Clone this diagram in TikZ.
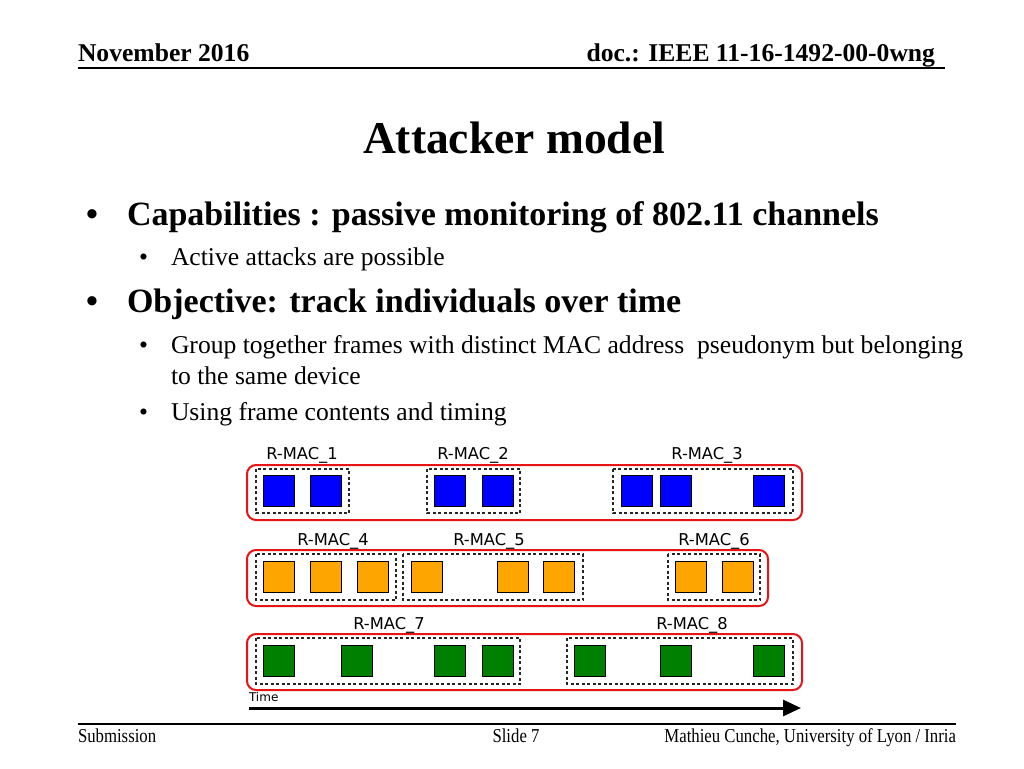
\documentclass[tikz,border=0pt]{standalone}
\usepackage{fontspec}
\setmainfont{Liberation Serif}
\newfontfamily\footfont{Liberation Serif}[FakeStretch=0.85]
\newfontfamily\dejafont{DejaVu Sans}
\usetikzlibrary{arrows.meta}
\definecolor{frameblue}{RGB}{0,0,255}
\definecolor{frameorange}{RGB}{255,165,0}
\definecolor{framegreen}{RGB}{0,128,0}
\definecolor{groupred}{RGB}{230,20,20}
\tikzset{
  txt/.style={anchor=base west, inner sep=0pt, outer sep=0pt},
  hdr/.style={txt, font=\fontsize{25.6}{30}\selectfont\bfseries},
  lvlone/.style={txt, font=\fontsize{34}{40}\selectfont\bfseries},
  lvltwo/.style={txt, font=\fontsize{25.6}{30}\selectfont},
  foot/.style={txt, font=\fontsize{19.7}{24}\footfont},
  maclabel/.style={anchor=base, inner sep=0pt, font=\fontsize{16.3}{19}\dejafont},
  frm/.style={draw=black, line width=1pt, minimum width=31pt, minimum height=31pt, inner sep=0pt, anchor=north west},
  bluefrm/.style={frm, fill=frameblue},
  orangefrm/.style={frm, fill=frameorange},
  greenfrm/.style={frm, fill=framegreen},
  macbox/.style={draw=black!85, line width=1.2pt, dash pattern=on 3pt off 2.5pt},
  groupbox/.style={draw=groupred, line width=2pt, rounded corners=9pt},
  rulestyle/.style={draw=black, line width=1.5pt}
}
\begin{document}
\begin{tikzpicture}[x=1pt,y=-1pt]
\useasboundingbox[fill=white] (0,0) rectangle (1024,768);

% header
\node[hdr] (hl) at (78,62) {November 2016};
\node[hdr, anchor=base east] (hr) at (935,62) {doc.: IEEE 11-16-1492-00-0wng};
\coordinate (hla) at (78,68);
\coordinate (hlb) at (945,68);
\draw[rulestyle] (hla) -- (hlb);

% title
\node[txt, font=\fontsize{45.5}{50}\selectfont\bfseries] (title) at (363,153) {Attacker model};

% bullets
\node[lvlone] (b1) at (86,225) {\textbullet};
\node[lvlone] (t1) at (127,225) {Capabilities : passive monitoring of 802.11 channels};
\node[lvltwo] (b11) at (139,265) {\textbullet};
\node[lvltwo] (t11) at (171,265) {Active attacks are possible};
\node[lvlone] (b2) at (86,312) {\textbullet};
\node[lvlone] (t2) at (127,312) {Objective: track individuals over time};
\node[lvltwo] (b21) at (139,353) {\textbullet};
\node[lvltwo] (t21) at (171,353) {Group together frames with distinct MAC address\ \ pseudonym but belonging};
\node[lvltwo] (t21b) at (171,384) {to the same device};
\node[lvltwo] (b22) at (139,420) {\textbullet};
\node[lvltwo] (t22) at (171,420) {Using frame contents and timing};

% row 1
\draw[groupbox] (247,465) rectangle (802,520);
\draw[macbox] (256,469) rectangle (349,513);
\draw[macbox] (427,469) rectangle (520,513);
\draw[macbox] (613,469) rectangle (793,513);
\node[maclabel] (m1) at (302,459) {R-MAC\_1};
\node[maclabel] (m2) at (473,459) {R-MAC\_2};
\node[maclabel] (m3) at (707,459) {R-MAC\_3};
\node[bluefrm] (f11) at (263,475) {};
\node[bluefrm] (f12) at (310,475) {};
\node[bluefrm] (f13) at (434,475) {};
\node[bluefrm] (f14) at (482,475) {};
\node[bluefrm] (f15) at (621,475) {};
\node[bluefrm] (f16) at (660,475) {};
\node[bluefrm] (f17) at (753,475) {};

% row 2
\draw[groupbox] (247,550) rectangle (768,606);
\draw[macbox] (256,554) rectangle (396,600);
\draw[macbox] (403,554) rectangle (583,600);
\draw[macbox] (668,554) rectangle (760,600);
\node[maclabel] (m4) at (333,545) {R-MAC\_4};
\node[maclabel] (m5) at (489,545) {R-MAC\_5};
\node[maclabel] (m6) at (714,545) {R-MAC\_6};
\node[orangefrm] (f21) at (263,561) {};
\node[orangefrm] (f22) at (310,561) {};
\node[orangefrm] (f23) at (357,561) {};
\node[orangefrm] (f24) at (411,561) {};
\node[orangefrm] (f25) at (497,561) {};
\node[orangefrm] (f26) at (543,561) {};
\node[orangefrm] (f27) at (675,561) {};
\node[orangefrm] (f28) at (722,561) {};

% row 3
\draw[groupbox] (247,634) rectangle (802,690);
\draw[macbox] (256,638) rectangle (520,684);
\draw[macbox] (567,638) rectangle (793,684);
\node[maclabel] (m7) at (389,629) {R-MAC\_7};
\node[maclabel] (m8) at (692,629) {R-MAC\_8};
\node[greenfrm] (f31) at (263,645) {};
\node[greenfrm] (f32) at (341,645) {};
\node[greenfrm] (f33) at (434,645) {};
\node[greenfrm] (f34) at (482,645) {};
\node[greenfrm] (f35) at (574,645) {};
\node[greenfrm] (f36) at (660,645) {};
\node[greenfrm] (f37) at (753,645) {};

% time arrow
\node[txt, font=\fontsize{12}{14}\dejafont] (time) at (249,701) {Time};
\coordinate (ta) at (249,708);
\coordinate (tb) at (801,708);
\draw[line width=3pt, -{Triangle[length=18pt,width=16pt]}] (ta) -- (tb);

% footer
\coordinate (fla) at (78,724);
\coordinate (flb) at (956,724);
\draw[line width=1.2pt] (fla) -- (flb);
\node[foot] (fs) at (78,742) {Submission};
\node[foot, anchor=base] (fm) at (516,742) {Slide 7};
\node[foot, anchor=base east] (fr) at (956,742) {Mathieu Cunche, University of Lyon / Inria};
\end{tikzpicture}
\end{document}
